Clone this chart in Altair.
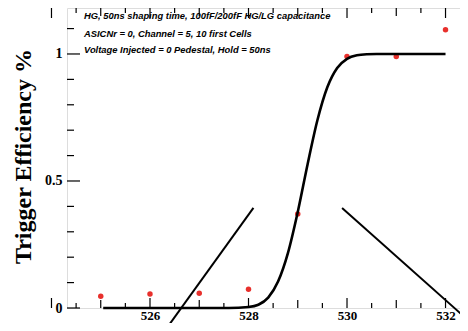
import altair as alt
import pandas as pd

# measured points
pt_x = [525, 526, 527, 528, 529, 530, 531, 532]
pt_y = [0.046, 0.055, 0.058, 0.074, 0.37, 0.99, 0.99, 1.095]

# fitted curve
cv_x = [525.05, 527.6, 528.0, 528.2, 528.4, 528.6, 528.8, 529.0, 529.2, 529.4,
        529.6, 529.8, 530.0, 530.2, 530.4, 530.6, 531.0, 532.0]
cv_y = [0.0, 0.0, 0.004, 0.013, 0.041, 0.104, 0.216, 0.378, 0.566, 0.74,
        0.869, 0.945, 0.981, 0.995, 0.999, 1.0, 1.0, 1.0]

# stray straight lines
l1_x = [526.3, 528.1]
l1_y = [-0.09, 0.394]
l2_x = [529.9, 532.7]
l2_y = [0.394, -0.09]

notes = ["HG, 50ns shaping time, 100fF/200fF HG/LG capacitance",
         "ASICNr = 0, Channel = 5, 10 first Cells",
         "Voltage Injected = 0 Pedestal, Hold = 50ns"]
note_y = [1.15, 1.079, 1.016]
note_x = 524.66

y_major = [0, 0.5, 1]
y_minor = [0.1, 0.2, 0.3, 0.4, 0.6, 0.7, 0.8, 0.9, 1.1]
x_big = [524, 526, 528, 530, 532]
x_mid = [525, 527, 529, 531]
x_small = [524.5, 525.5, 526.5, 527.5, 528.5, 529.5, 530.5, 531.5, 532.5]
x_labels = [526, 528, 530, 532]

W, H = 413, 300
XD = [524.315, 532.7]
YD = [0, 1.181]

xs = alt.Scale(domain=XD, nice=False, zero=False)
ys = alt.Scale(domain=YD, nice=False, zero=False)

serif = "Liberation Serif"

pts = pd.DataFrame({"x": pt_x, "y": pt_y})
curve = pd.DataFrame({"x": cv_x, "y": cv_y})
lines = pd.DataFrame({"x": l1_x + l2_x, "y": l1_y + l2_y, "g": ["a", "a", "b", "b"]})
nt = pd.DataFrame({"t": notes, "y": note_y, "x": [note_x] * 3})

base_x = alt.X("x:Q", scale=xs, axis=alt.Axis(values=x_labels, format="d", ticks=False, domain=False,
                                             grid=False, labelFont=serif, labelFontWeight="bold",
                                             labelFontSize=13, labelColor="black", labelPadding=1,
                                             title=None))
base_y = alt.Y("y:Q", scale=ys, axis=alt.Axis(values=y_major, ticks=False, domain=False, grid=False,
                                             labelFont=serif, labelFontWeight="bold", labelFontSize=14,
                                             labelColor="black", labelPadding=5,
                                             labelExpr="datum.value == 0 ? '0' : datum.value == 1 ? '1' : '0.5'",
                                             title="Trigger Efficiency %", titleFont=serif,
                                             titleFontWeight="bold", titleFontSize=24, titleColor="black",
                                             titleAngle=270, titleX=-37, titleY=148,
                                             titleAlign="center", titleBaseline="alphabetic"))

p_layer = alt.Chart(pts).mark_circle(size=30, color="#e8302c", opacity=1).encode(x=base_x, y=base_y)
c_layer = alt.Chart(curve).mark_line(color="black", strokeWidth=2.6, interpolate="monotone").encode(
    x=alt.X("x:Q", scale=xs), y=alt.Y("y:Q", scale=ys))
l_layer = alt.Chart(lines).mark_line(color="black", strokeWidth=2, clip=False).encode(
    x=alt.X("x:Q", scale=xs), y=alt.Y("y:Q", scale=ys), detail="g:N")
t_layer = alt.Chart(nt).mark_text(align="left", baseline="middle", font="Liberation Sans",
                                  fontStyle="italic", fontWeight="bold", fontSize=9.4, color="black").encode(
    x=alt.X("x:Q", scale=xs), y=alt.Y("y:Q", scale=ys), text="t:N")


def yticks(vals, L):
    d = pd.DataFrame({"y": vals})
    left = alt.Chart(d).mark_rule(color="black", strokeWidth=1.2).encode(
        y=alt.Y("y:Q", scale=ys), x=alt.value(0), x2=alt.value(L))
    right = alt.Chart(d).mark_rule(color="black", strokeWidth=1.2).encode(
        y=alt.Y("y:Q", scale=ys), x=alt.value(W), x2=alt.value(W - L))
    return [left, right]


def xticks(vals, L):
    d = pd.DataFrame({"x": vals})
    bot = alt.Chart(d).mark_rule(color="black", strokeWidth=1.2).encode(
        x=alt.X("x:Q", scale=xs), y=alt.value(H), y2=alt.value(H - L))
    top = alt.Chart(d).mark_rule(color="black", strokeWidth=1.2).encode(
        x=alt.X("x:Q", scale=xs), y=alt.value(0), y2=alt.value(L))
    return [bot, top]


tick_layers = (yticks(y_major, 13) + yticks(y_minor, 7) + xticks(x_big, 10) + xticks(x_mid, 8)
               + xticks(x_small, 5))

chart = alt.layer(p_layer, c_layer, l_layer, t_layer, *tick_layers).properties(
    width=W, height=H,
    autosize=alt.AutoSizeParams(type="none"),
    padding={"left": 59, "top": 0, "right": -20, "bottom": 15},
).configure_view(stroke="black", strokeWidth=1.5).configure(background="white")

chart.save("out.html", embed_options={"renderer": "svg", "actions": False})
